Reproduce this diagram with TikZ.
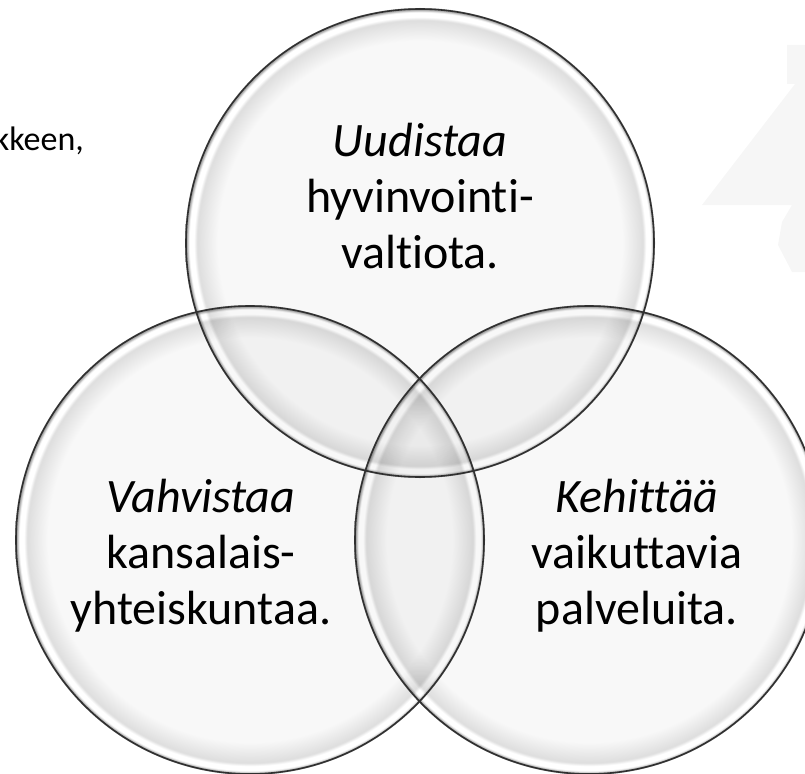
\documentclass[tikz,border=0pt]{standalone}
\usepackage{fontspec}
\setmainfont{Carlito}[Ligatures={NoCommon}]
\definecolor{gin}{HTML}{F8F8F8}
\definecolor{gmid}{HTML}{DEDEDE}
\definecolor{gedge}{HTML}{A8A8A8}
\definecolor{faintgray}{HTML}{F6F6F6}
\definecolor{ringline}{HTML}{303030}
\pgfdeclareradialshading{glassball}{\pgfpoint{0bp}{0bp}}{%
  color(0bp)=(gin); color(21.5bp)=(gin); color(23.7bp)=(gmid);
  color(24.05bp)=(white); color(24.55bp)=(white); color(24.8bp)=(gedge);
  color(25bp)=(gedge); color(50bp)=(gedge)}
\begin{document}
\begin{tikzpicture}[x=1pt,y=-1pt,
  lbl/.style={font=\fontsize{48}{56}\selectfont, align=center, anchor=base,
    text=black, inner sep=0pt},
  ball/.style={shading=glassball, blend mode=multiply},
  ballrim/.style={draw=ringline, line width=1.6pt}]
\useasboundingbox (0,0) rectangle (805,773);
% faint background shape at the right edge
\fill[faintgray] (787,45) -- (805,45) -- (805,272) -- (792,272) -- (778,245)
  -- (782,222) -- (792,205) -- (702,205) -- (795,84) -- (787,84) -- cycle;
% cut-off text at the left edge
\node[anchor=base east, inner sep=0pt, font=\fontsize{34}{40}\selectfont]
  (cut) at (84,150) {kkeen,};
% circle centres
\coordinate (ctop) at (420,243);
\coordinate (cleft) at (250,540);
\coordinate (cright) at (589,540);
\shade[ball] (ctop) circle[radius=235pt];
\shade[ball] (cleft) circle[radius=235pt];
\shade[ball] (cright) circle[radius=235pt];
\draw[ballrim] (ctop) circle[radius=234pt];
\draw[ballrim] (cleft) circle[radius=234pt];
\draw[ballrim] (cright) circle[radius=234pt];
% labels (anchor = baseline of the last line)
\node[lbl] (ttop) at (420,268) {\textit{Uudistaa}\\hyvinvointi-\\valtiota.};
\node[lbl] (tleft) at (201,624) {\textit{Vahvistaa}\\kansalais-\\yhteiskuntaa.};
\node[lbl] (tright) at (637,624) {\textit{Kehittää}\\vaikuttavia\\palveluita.};
\end{tikzpicture}
\end{document}
